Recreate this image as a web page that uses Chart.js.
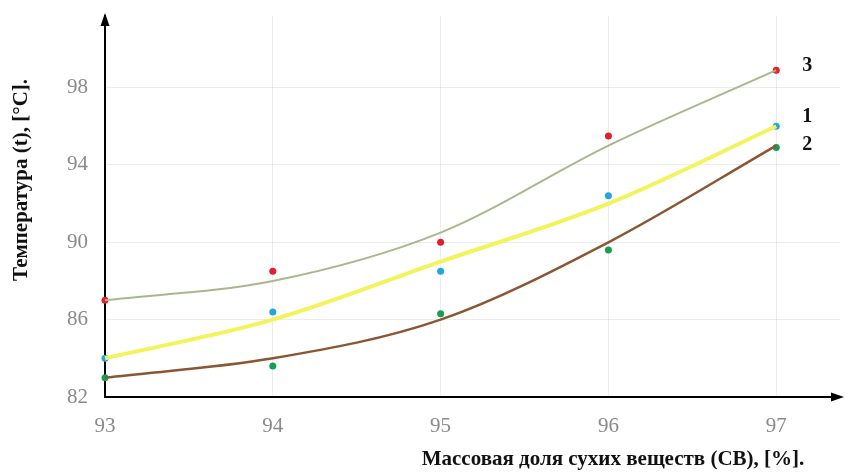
<!DOCTYPE html>
<html><head><meta charset="utf-8">
<script src="https://cdn.jsdelivr.net/npm/chart.js@4.4.0/dist/chart.umd.min.js"></script>
<style>html,body{margin:0;padding:0;background:#fff}#wrap{width:852px;height:475px}</style>
</head><body><div id="wrap"><canvas id="c" width="852" height="475"></canvas></div>
<script>
const xValues = [93, 94, 95, 96, 97];
const xTicks = [93, 94, 95, 96, 97];
const yTicks = [82, 86, 90, 94, 98];
// measured points
const measured1 = [84.0, 86.4, 88.5, 92.4, 96.0];
const measured2 = [83.0, 83.6, 86.3, 89.6, 94.9];
const measured3 = [87.0, 88.5, 90.0, 95.5, 98.9];
// fitted curves
const fit1 = [84.0, 86.0, 89.0, 92.0, 96.0];
const fit2 = [83.0, 84.0, 86.0, 90.0, 95.0];
const fit3 = [87.0, 88.0, 90.5, 95.0, 98.9];
const curveLabels = ['1', '2', '3'];
const xTitle = 'Массовая доля сухих веществ (СВ), [%].';
const yTitle = 'Температура (t), [°С].';

const pts = arr => xValues.map((x, i) => ({x, y: arr[i]}));

const lineDs = (data, color, w) => ({type:'line', data: pts(data), borderColor: color, borderWidth: w,
  pointRadius: 0, cubicInterpolationMode: 'monotone', fill: false, clip: false});
const ptDs = (data, color) => ({type:'scatter', data: pts(data), backgroundColor: color, borderColor: color,
  pointRadius: 3.5, borderWidth: 0, clip: false});

const serif = '"Liberation Serif", "DejaVu Serif", serif';

const overlay = {
  id: 'overlay',
  afterDraw(chart) {
    const ctx = chart.ctx, a = chart.chartArea;
    const xs = chart.scales.x, ys = chart.scales.y;
    ctx.save();
    ctx.fillStyle = '#000';
    // y arrow
    ctx.beginPath();
    ctx.moveTo(a.left, a.top - 3);
    ctx.lineTo(a.left - 4.5, a.top + 10);
    ctx.lineTo(a.left + 4.5, a.top + 10);
    ctx.closePath(); ctx.fill();
    // x arrow
    ctx.beginPath();
    ctx.moveTo(a.right + 4, a.bottom);
    ctx.lineTo(a.right - 9, a.bottom - 4.5);
    ctx.lineTo(a.right - 9, a.bottom + 4.5);
    ctx.closePath(); ctx.fill();
    // curve labels
    ctx.font = 'bold 20px ' + serif;
    ctx.fillStyle = '#111';
    ctx.textAlign = 'left'; ctx.textBaseline = 'middle';
    const lx = xs.getPixelForValue(xValues[4]) + 26;
    ctx.fillText(curveLabels[2], lx, ys.getPixelForValue(fit3[4]) - 4);
    ctx.fillText(curveLabels[0], lx, ys.getPixelForValue(fit1[4]) - 9);
    ctx.fillText(curveLabels[1], lx, ys.getPixelForValue(fit2[4]) - 1);
    // titles
    ctx.font = 'bold 21px ' + serif;
    ctx.textAlign = 'center';
    ctx.fillText(xTitle, 613, 460);
    ctx.translate(22, 180);
    ctx.rotate(-Math.PI / 2);
    ctx.fillText(yTitle, 0, 0);
    ctx.restore();
  }
};

new Chart(document.getElementById('c'), {
  type: 'scatter',
  data: { datasets: [
    lineDs(fit3, '#a9b88c', 2),
    lineDs(fit1, '#f3f35c', 4),
    lineDs(fit2, '#8a5634', 2.5),
    ptDs(measured3, '#e0202c'),
    ptDs(measured1, '#25a5e0'),
    ptDs(measured2, '#14a050')
  ]},
  options: {
    responsive: false, animation: false, devicePixelRatio: 1,
    layout: { padding: { left: 0, top: 16, right: 12, bottom: 0 } },
    plugins: { legend: { display: false }, tooltip: { enabled: false } },
    scales: {
      x: {
        type: 'linear', min: 93, max: 97.38, z: -1,
        afterBuildTicks: s => { s.ticks = xTicks.map(v => ({value: v})); },
        afterFit: s => { s.height = 78; },
        grid: { color: 'rgba(0,0,0,0.07)', drawTicks: false },
        border: { display: true, color: '#000', width: 2 },
        ticks: { color: '#8a8a8a', font: { family: serif, size: 21 }, padding: 17 }
      },
      y: {
        type: 'linear', min: 82, max: 101.7, z: -1,
        afterBuildTicks: s => { s.ticks = yTicks.map(v => ({value: v})); },
        afterFit: s => { s.width = 105; s.paddingTop = 0; s.paddingBottom = 0; },
        grid: { color: 'rgba(0,0,0,0.07)', drawTicks: false },
        border: { display: true, color: '#000', width: 2 },
        ticks: { color: '#8a8a8a', font: { family: serif, size: 21 }, padding: 17 }
      }
    }
  },
  plugins: [overlay]
});
</script>
</body></html>
